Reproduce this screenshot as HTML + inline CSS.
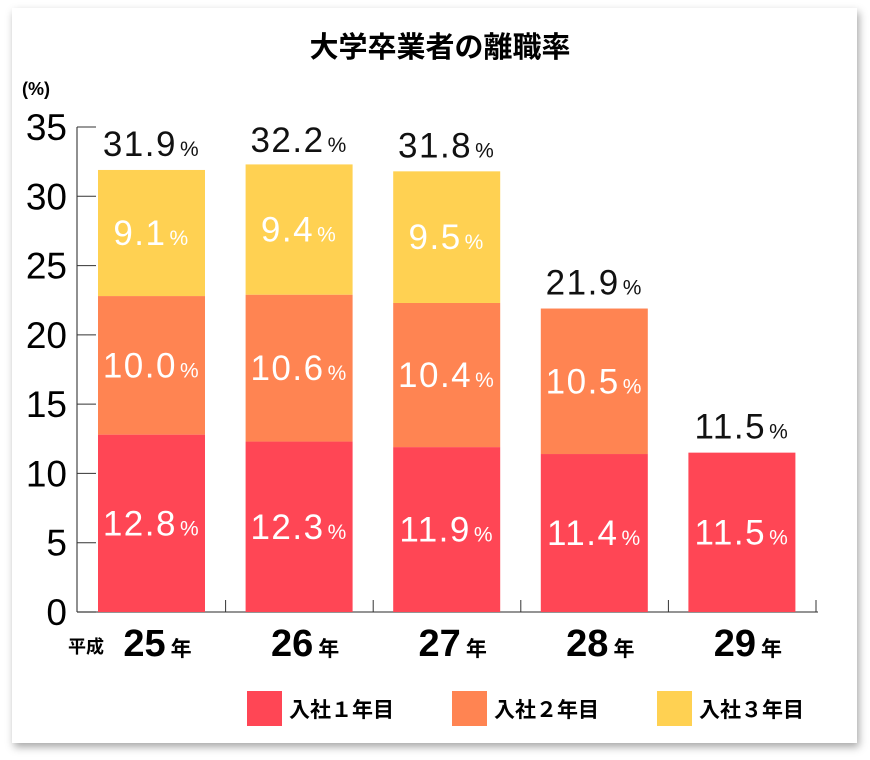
<!DOCTYPE html>
<html><head><meta charset="utf-8"><style>
body{margin:0;background:#fff;width:870px;height:760px;overflow:hidden}
#card{position:absolute;left:12px;top:8px;width:845px;height:735px;background:#fff;box-shadow:2px 4px 8px rgba(0,0,0,.35)}
svg{position:absolute;left:0;top:0}
text{font-family:"Liberation Sans","Noto Sans CJK JP",sans-serif}
</style></head><body>
<div id="card"></div>
<svg id="chart" width="870" height="760">
<text x="440" y="57" text-anchor="middle" font-size="29" font-weight="bold">大学卒業者の離職率</text>
<text x="22" y="95" font-size="18" font-weight="bold">(%)</text>
<g id="axes"></g><g id="bars"></g>
</svg>
<script>
const categories=["25","26","27","28","29"];
const year1=[12.8,12.3,11.9,11.4,11.5];
const year2=[10.0,10.6,10.4,10.5,0];
const year3=[9.1,9.4,9.5,0,0];
const totals=[31.9,32.2,31.8,21.9,11.5];
const yTicks=[0,5,10,15,20,25,30,35];
const seriesNames=["入社１年目","入社２年目","入社３年目"];
const colors=["#FF4655","#FF8452","#FFD152"];
const NS="http://www.w3.org/2000/svg";
const y0=612,yk=(612-127)/35,x0=77,step=147.6,bw=107;
const Y=v=>y0-v*yk, X=i=>98+i*step;
function mk(t,a,p){const e=document.createElementNS(NS,t);for(const k in a)e.setAttribute(k,a[k]);p.appendChild(e);return e;}
const ax=document.getElementById('axes'),bg=document.getElementById('bars');
const yl=mk('line',{x1:x0,y1:Y(35),x2:x0,y2:y0,stroke:'#555','stroke-width':1.3},ax);

const xl=mk('line',{x1:x0,y1:y0,x2:818,y2:y0,stroke:'#555','stroke-width':1.3},ax);

yTicks.forEach(v=>{
 mk('line',{x1:x0,y1:Y(v),x2:x0+19,y2:Y(v),stroke:'#333','stroke-width':1},ax);
 const t=mk('text',{x:67,y:Y(v)+13,'text-anchor':'end','font-size':37},ax);t.textContent=v;
 
});
for(let i=1;i<=categories.length;i++){mk('line',{x1:X(i)-20,y1:y0-12,x2:X(i)-20,y2:y0,stroke:'#333'},ax);}
function lab(x,y,val,size,fill,name){
 const t=mk('text',{x:x,y:y,'text-anchor':'middle','font-size':size,fill:fill,'letter-spacing':1.5},bg);
 
 t.textContent=val.toFixed(1);
 const s=mk('tspan',{'font-size':size*0.6,dx:3},t);s.textContent='%';
}
categories.forEach((c,i)=>{
 let base=0;[year1,year2,year3].forEach((arr,k)=>{
  const v=arr[i];if(!v)return;
  const r=mk('rect',{x:X(i),y:Y(base+v),width:bw,height:v*yk,fill:colors[k]},bg);
  
  lab(X(i)+bw/2,Y(base+v/2)+12,v,35,'#fff','segment-value-label');
  base+=v;
 });
 lab(X(i)+bw/2,Y(totals[i])-14,totals[i],35,'#111','total-value-label');
 const t=mk('text',{x:X(i)+bw/2+6,y:656,'text-anchor':'middle','font-size':38,'font-weight':'bold'},bg);
 
 t.textContent=c;const s=mk('tspan',{'font-size':21,dx:5},t);s.textContent='年';
});
const p=mk('text',{x:68,y:653,'font-size':18,'font-weight':'bold'},bg);p.textContent='平成';

const lx=[247,452,657];
seriesNames.forEach((n,k)=>{
 const g=mk('g',{},bg);
 mk('rect',{x:lx[k],y:691,width:35,height:35,fill:colors[k]},g);
 const t=mk('text',{x:lx[k]+42,y:717,'font-size':21,'font-weight':'bold'},g);t.textContent=n;
});
</script>
</body></html>
